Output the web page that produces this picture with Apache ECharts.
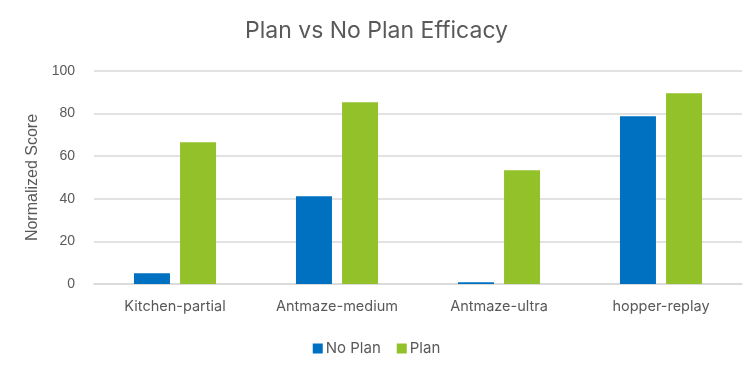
<!DOCTYPE html>
<html>
<head>
<meta charset="utf-8">
<script src="https://cdn.jsdelivr.net/npm/echarts@6/dist/echarts.min.js"></script>
<style>
  html, body { margin: 0; padding: 0; background: #fff; }
  #chart { width: 753px; height: 372px; }
</style>
</head>
<body>
<div id="chart"></div>
<script>
  // data
  var categories = ['Kitchen-partial', 'Antmaze-medium', 'Antmaze-ultra', 'hopper-replay'];
  var noPlan = [5.0, 41.2, 0.8, 78.7];
  var plan = [66.5, 85.3, 53.4, 89.5];
  var yTicks = [0, 20, 40, 60, 80, 100];

  var myChart = echarts.init(document.getElementById('chart'));
  var font = 'Inter, "Noto Sans", sans-serif';
  var arial = '"Liberation Sans", Arial, sans-serif';
  var option = {
    backgroundColor: '#fff',
    color: ['#0070C0', '#92C12A'],
    title: {
      text: 'Plan vs No Plan Efficacy',
      left: 'center',
      top: 15,
      textStyle: { color: '#595959', fontSize: 23, fontWeight: 'normal', fontFamily: font }
    },
    legend: {
      data: ['No Plan', 'Plan'],
      bottom: 11,
      left: 'center',
      itemWidth: 10,
      itemHeight: 10,
      itemGap: 16,
      icon: 'rect',
      textStyle: { color: '#595959', fontSize: 15, fontFamily: font, padding: [0, 0, 0, -2] }
    },
    grid: {
      left: 94,
      right: 11,
      top: 71,
      bottom: 88
    },
    xAxis: {
      type: 'category',
      data: categories,
      axisLine: { lineStyle: { color: '#d9d9d9', width: 1.5 } },
      axisTick: { show: false },
      axisLabel: { color: '#595959', fontSize: 14.5, margin: 15, fontFamily: font }
    },
    yAxis: {
      type: 'value',
      min: yTicks[0],
      max: yTicks[yTicks.length - 1],
      interval: 20,
      name: 'Normalized Score',
      nameLocation: 'middle',
      nameGap: 52,
      nameTextStyle: { color: '#595959', fontSize: 16, fontFamily: arial },
      axisLine: { show: false },
      axisTick: { show: false },
      axisLabel: { color: '#595959', fontSize: 14, margin: 19, fontFamily: arial },
      splitLine: { lineStyle: { color: '#d9d9d9', width: 1.5 } }
    },
    series: [{
      name: 'No Plan',
      type: 'bar',
      barWidth: 36,
      barGap: '28%',
      data: noPlan
    }, {
      name: 'Plan',
      type: 'bar',
      barWidth: 36,
      barGap: '28%',
      data: plan
    }]
  };
  myChart.setOption(option);
</script>
</body>
</html>
